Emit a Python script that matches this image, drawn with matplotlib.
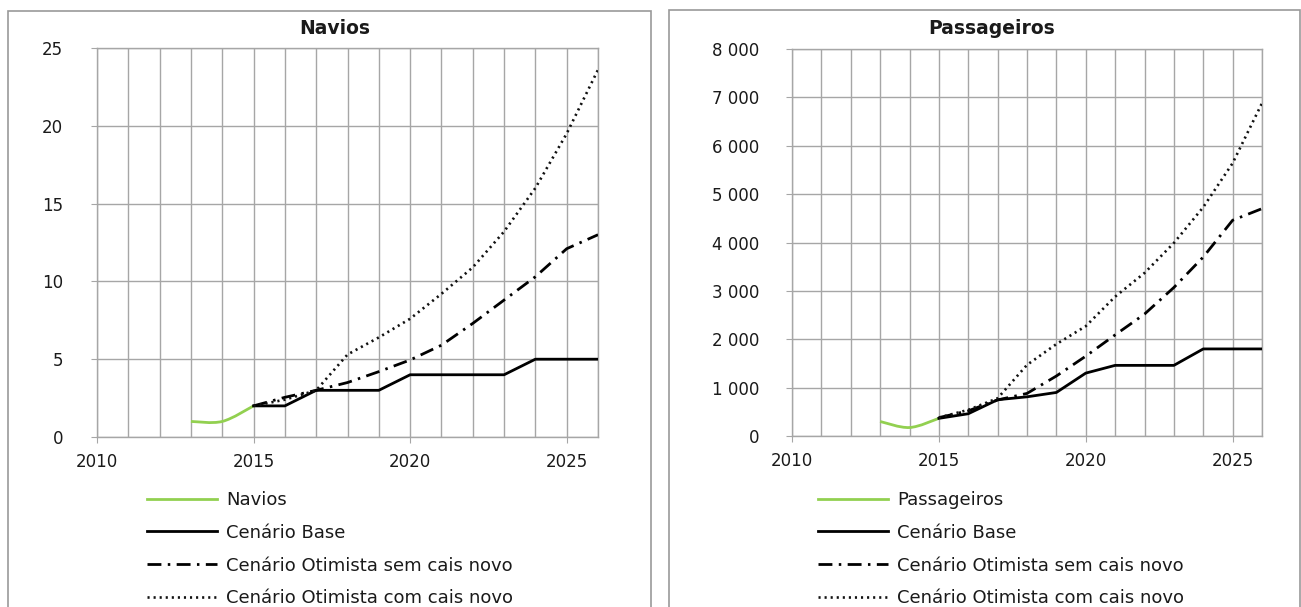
import matplotlib
matplotlib.use("Agg")
import matplotlib.pyplot as plt
from matplotlib.path import Path
from matplotlib.patches import PathPatch, Rectangle
from matplotlib.lines import Line2D
from matplotlib.ticker import MultipleLocator, FuncFormatter

# ---- data ----
years_hist = [2013, 2014, 2015]
years_proj = [2015, 2016, 2017, 2018, 2019, 2020, 2021, 2022, 2023, 2024, 2025, 2026]

navios_hist = [1, 1, 2]
navios_base = [2, 2, 3, 3, 3, 4, 4, 4, 4, 5, 5, 5]
navios_sem_cais = [2, 2.55, 3.0, 3.5, 4.2, 4.95, 5.9, 7.3, 8.8, 10.3, 12.1, 13.0]
navios_com_cais = [2, 2.4, 3.0, 5.3, 6.4, 7.6, 9.2, 10.9, 13.2, 16.0, 19.5, 23.6]

pass_hist = [300, 175, 365]
pass_base = [365, 460, 750, 810, 900, 1300, 1460, 1460, 1460, 1800, 1800, 1800]
pass_sem_cais = [380, 520, 745, 880, 1240, 1650, 2090, 2520, 3070, 3700, 4460, 4700]
pass_com_cais = [380, 540, 780, 1470, 1900, 2270, 2880, 3370, 3990, 4730, 5640, 6880]

series_labels = ["Cenário Base", "Cenário Otimista sem cais novo",
                 "Cenário Otimista com cais novo"]

GREEN = "#92D050"
GRID = "#a6a6a6"
TEXT = "#1a1a1a"
W, H = 1301, 607

plt.rcParams["font.family"] = ["DejaVu Sans"]
fig = plt.figure(figsize=(W / 100, H / 100), dpi=100)


def px_box(x0, y0, x1, y1):
    """Convert pixel box (top-left origin) to figure fraction rect."""
    return [x0 / W, 1 - y1 / H, (x1 - x0) / W, (y1 - y0) / H]


def smooth_path(xs, ys):
    """Smoothed polyline through the points as cubic Bezier segments."""
    pts = list(zip(xs, ys))
    verts = [pts[0]]
    codes = [Path.MOVETO]
    n = len(pts)
    for i in range(n - 1):
        p0 = pts[max(i - 1, 0)]
        p1 = pts[i]
        p2 = pts[i + 1]
        p3 = pts[min(i + 2, n - 1)]
        c1 = (p1[0] + (p2[0] - p0[0]) / 6, p1[1] + (p2[1] - p0[1]) / 6)
        c2 = (p2[0] - (p3[0] - p1[0]) / 6, p2[1] - (p3[1] - p1[1]) / 6)
        verts += [c1, c2, p2]
        codes += [Path.CURVE4] * 3
    return Path(verts, codes)


def draw_panel(box_px, ax_px, title, title_x, ymax, ystep, fmt,
               hist_label, hist, base, sem, com, ypad, legend_x):
    # outer chart frame
    bx0, by0, bx1 = box_px
    fig.patches.append(Rectangle((bx0 / W, -0.05), (bx1 - bx0) / W, 1.05 - by0 / H,
                                 transform=fig.transFigure, fill=False,
                                 edgecolor="#999999", linewidth=1.2))
    ax = fig.add_axes(px_box(*ax_px))
    ax.set_xlim(2010, 2026)
    ax.set_ylim(0, ymax)
    ax.xaxis.set_major_locator(MultipleLocator(5))
    ax.xaxis.set_minor_locator(MultipleLocator(1))
    ax.yaxis.set_major_locator(MultipleLocator(ystep))
    ax.yaxis.set_major_formatter(FuncFormatter(fmt))
    ax.grid(True, which="both", axis="x", color=GRID, linewidth=1.0)
    ax.grid(True, which="major", axis="y", color=GRID, linewidth=1.0)
    ax.set_axisbelow(True)
    for s in ax.spines.values():
        s.set_color(GRID)
        s.set_linewidth(1.0)
    ax.tick_params(axis="x", which="major", direction="out", length=4.5,
                   color=GRID, labelsize=12, labelcolor=TEXT, pad=7)
    ax.tick_params(axis="x", which="minor", length=0)
    ax.tick_params(axis="y", direction="out", length=4.5, color=GRID,
                   labelsize=12, labelcolor=TEXT, pad=ypad)

    hist_patch = PathPatch(smooth_path(hist[0], hist[1]), facecolor="none",
                           edgecolor=GREEN, linewidth=2.0, zorder=3)
    ax.add_patch(hist_patch)
    l_base, = ax.plot(years_proj, base, color="black", linewidth=2.0, zorder=4)
    l_sem, = ax.plot(years_proj, sem, color="black", linewidth=2.0,
                     dashes=(5, 2.3, 0.9, 2.3), zorder=4)
    l_com, = ax.plot(years_proj, com, color="#111111", linewidth=1.9,
                     dashes=(0.8, 1.5), zorder=4)

    fig.text(title_x / W, 1 - 28 / H, title, ha="center", va="center",
             fontsize=13.5, fontweight="bold", color=TEXT)

    hist_handle = Line2D([], [], color=GREEN, linewidth=2.0)
    leg = fig.legend([hist_handle, l_base, l_sem, l_com],
                     [hist_label] + series_labels,
                     loc="upper left",
                     bbox_to_anchor=(legend_x / W, 1 - 491 / H),
                     frameon=False, fontsize=13, handlelength=3.9,
                     handletextpad=0.5, labelspacing=0.82, borderpad=0,
                     borderaxespad=0)
    for t in leg.get_texts():
        t.set_color(TEXT)
    return ax


def plain(v, pos):
    return f"{v:.0f}"


def spaced(v, pos):
    return f"{v:,.0f}".replace(",", " ")


draw_panel((8, 11, 651), (97, 48, 598, 437), "Navios", 335, 25, 5, plain,
           "Navios", (years_hist, navios_hist), navios_base, navios_sem_cais,
           navios_com_cais, ypad=20, legend_x=147)
draw_panel((669, 10, 1300), (792, 49, 1262, 436), "Passageiros", 992, 8000, 1000,
           spaced, "Passageiros", (years_hist, pass_hist), pass_base,
           pass_sem_cais, pass_com_cais, ypad=19, legend_x=818)

fig.savefig("out.png", dpi=100, facecolor="white")
